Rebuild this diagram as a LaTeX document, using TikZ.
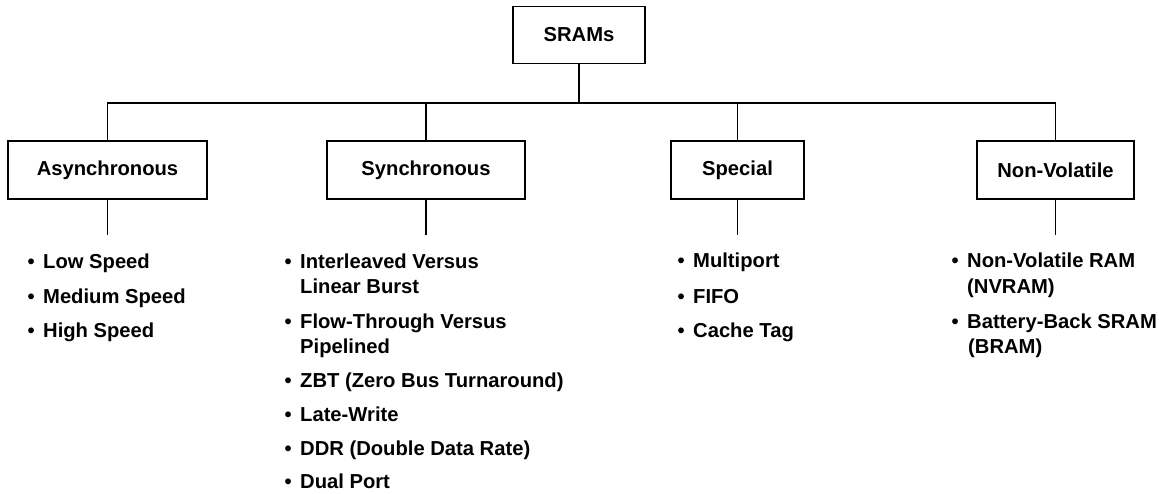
\documentclass[tikz,border=0pt]{standalone}
\usepackage{fontspec}
\setmainfont{Liberation Sans}
\begin{document}
\begin{tikzpicture}[x=1pt,y=-1pt,
  catbox/.style={draw,line width=1.4pt,minimum width=#1,minimum height=58pt,inner sep=0pt,
    font=\fontsize{20.2}{24}\selectfont\bfseries},
  catbox/.default=198pt,
  wire/.style={line width=1.4pt},
  itemtxt/.style={anchor=base west,inner sep=0pt,font=\fontsize{20.2}{24}\selectfont\bfseries}]
\useasboundingbox (0,0) rectangle (1159,494);
% bullet hanging to the left of the item text
\newcommand\bul{\llap{\textbullet\hspace{8.5pt}}}

% category boxes
\node[catbox=132pt,minimum height=57pt] (root) at (579,35) {SRAMs};
\node[catbox=199pt] (async) at (107.5,170) {Asynchronous};
\node[catbox=198pt] (sync) at (426,170) {Synchronous};
\node[catbox=133pt] (spec) at (737.5,170) {Special};
\node[catbox=157pt] (nv) at (1055.5,170) {Non-Volatile};

% bus
\coordinate (bus) at (579,103);
\draw[wire] (root.south) -- (bus);
\draw[wire] (async.north) |- (bus) -| (nv.north);
\draw[wire] (sync.north) -- (sync.north |- bus);
\draw[wire] (spec.north) -- (spec.north |- bus);

% drops to the lists
\coordinate (ad) at (107.5,235);
\coordinate (sd) at (426,235);
\coordinate (pd) at (737.5,235);
\coordinate (nd) at (1055.5,235);
\draw[wire] (async.south) -- (ad);
\draw[wire] (sync.south) -- (sd);
\draw[wire] (spec.south) -- (pd);
\draw[wire] (nv.south) -- (nd);

% asynchronous list
\node[itemtxt] (a1) at (43,269) {\bul Low Speed};
\node[itemtxt] (a2) at (43,303) {\bul Medium Speed};
\node[itemtxt] (a3) at (43,337) {\bul High Speed};

% synchronous list
\node[itemtxt] (s1) at (300,269) {\bul Interleaved Versus};
\node[itemtxt] (s1b) at (300,294) {Linear Burst};
\node[itemtxt] (s2) at (300,328) {\bul Flow-Through Versus};
\node[itemtxt] (s2b) at (300,353) {Pipelined};
\node[itemtxt] (s3) at (300,387) {\bul ZBT (Zero Bus Turnaround)};
\node[itemtxt] (s4) at (300,421) {\bul Late-Write};
\node[itemtxt] (s5) at (300,455) {\bul DDR (Double Data Rate)};
\node[itemtxt] (s6) at (300,488) {\bul Dual Port};

% special list
\node[itemtxt] (p1) at (693,268) {\bul Multiport};
\node[itemtxt] (p2) at (693,303) {\bul FIFO};
\node[itemtxt] (p3) at (693,337) {\bul Cache Tag};

% non-volatile list
\node[itemtxt] (n1) at (967,268) {\bul Non-Volatile RAM};
\node[itemtxt] (n1b) at (967,294) {(NVRAM)};
\node[itemtxt] (n2) at (967,328) {\bul Battery-Back SRAM};
\node[itemtxt] (n2b) at (968,353) {(BRAM)};
\end{tikzpicture}
\end{document}
